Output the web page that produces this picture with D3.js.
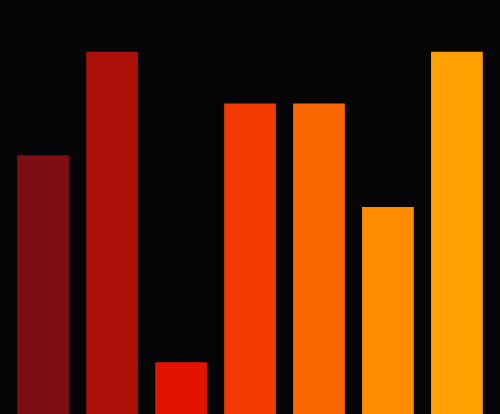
<!DOCTYPE html>
<html>
<head>
<meta charset="utf-8">
<script src="https://cdn.jsdelivr.net/npm/d3@7"></script>
<style>
  html, body { margin: 0; padding: 0; background: #050507; }
  svg { display: block; }
</style>
</head>
<body>
<div id="chart"></div>
<script>
var w = 500;
var h = 414;

// one bar per category, value + fill
var categories = ["a", "b", "c", "d", "e", "f", "g"];
var values = [5, 7, 1, 6, 6, 4, 7];
var colors = ["#7b0f14", "#ac0f08", "#e31300", "#f03a00", "#fa6600", "#ff8c00", "#ffa000"];

var svg = d3.select("#chart")
  .append("svg")
  .attr("width", w)
  .attr("height", h)
  .style("background", "#050507");

var x = d3.scaleBand()
  .domain(categories)
  .range([0, w])
  .padding(0.25);

var y = d3.scaleLinear()
  .domain([0, 8])
  .range([h, 0]);

svg.selectAll("rect")
  .data(values)
  .enter()
  .append("rect")
  .attr("x", function(d, i) { return x(categories[i]); })
  .attr("y", function(d) { return y(d); })
  .attr("width", x.bandwidth())
  .attr("height", function(d) { return h - y(d); })
  .attr("fill", function(d, i) { return colors[i]; });
</script>
</body>
</html>
